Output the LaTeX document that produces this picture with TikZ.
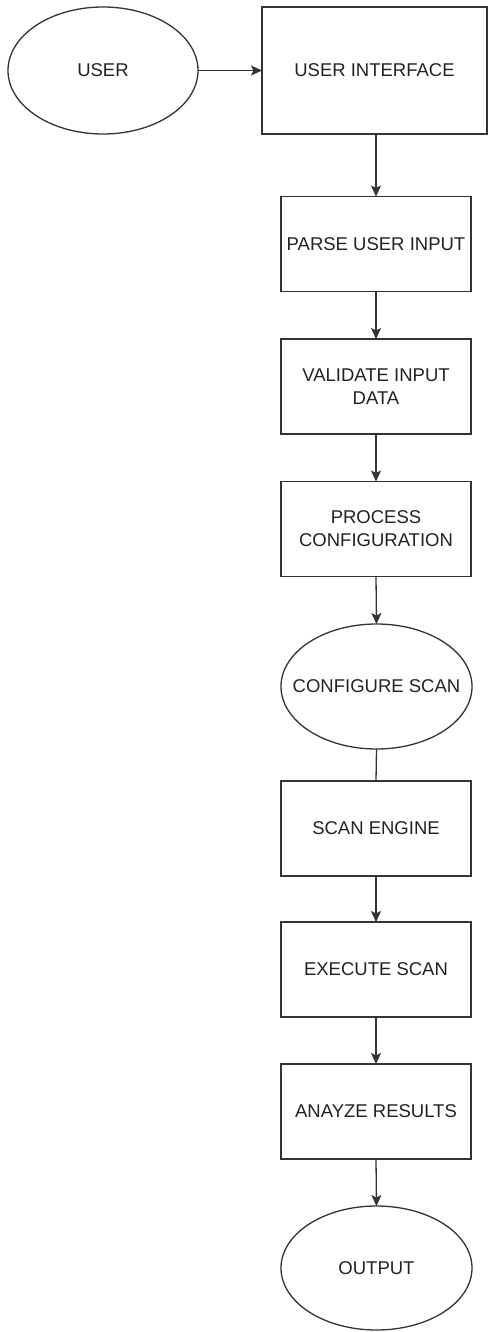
\documentclass[tikz,border=0pt]{standalone}
\usepackage{fontspec}
\setmainfont{Liberation Sans}
\usetikzlibrary{shapes.geometric,arrows.meta}
\definecolor{strk}{HTML}{333333}
\definecolor{txt}{HTML}{222222}
\newcommand{\txtfont}{\fontsize{18.5}{23}\selectfont}
\tikzset{
  base/.style={draw=strk, line width=1.3pt, inner sep=0pt, outer sep=0pt, text=txt,
    align=center, font=\txtfont},
  procbox/.style={base, rectangle, minimum width=190pt, minimum height=95pt},
  oval/.style={base, ellipse, minimum width=191pt, minimum height=125pt,
    label={[text=txt, font=\txtfont, inner sep=0pt]center:#1}},
  conn/.style={draw=strk, line width=1.3pt},
  arr/.style={conn, -{Stealth[length=11pt,width=10pt,inset=2.5pt]}}
}
\begin{document}
\begin{tikzpicture}[x=1pt,y=-1pt]
\useasboundingbox (0,0) rectangle (488,1332);
\node[oval=USER, minimum width=190pt, minimum height=127pt] (user) at (103,70.5) {};
\node[procbox, minimum width=225pt, minimum height=127pt] (ui) at (374.5,70.5) {USER INTERFACE};
\node[procbox] (parse) at (376,244) {PARSE USER INPUT};
\node[procbox] (validate) at (376,386.5) {VALIDATE INPUT\\DATA};
\node[procbox] (process) at (376,529) {PROCESS\\CONFIGURATION};
\node[oval=CONFIGURE SCAN] (config) at (376.5,686.5) {};
\node[procbox] (engine) at (376,828.5) {SCAN ENGINE};
\node[procbox] (execute) at (376,969.5) {EXECUTE SCAN};
\node[procbox] (analyze) at (376,1111.5) {ANAYZE RESULTS};
\node[oval=OUTPUT, minimum height=124pt] (output) at (376.5,1268) {};
\draw[arr] (user.east) -- (ui.west);
\draw[arr] (parse.north |- ui.south) -- (parse.north);
\draw[arr] (parse.south) -- (validate.north);
\draw[arr] (validate.south) -- (process.north);
\draw[arr] (process.south) -- (config.north);
\draw[conn] (config.south) -- (engine.north);
\draw[arr] (engine.south) -- (execute.north);
\draw[arr] (execute.south) -- (analyze.north);
\draw[arr] (analyze.south) -- (output.north);
\end{tikzpicture}
\end{document}
